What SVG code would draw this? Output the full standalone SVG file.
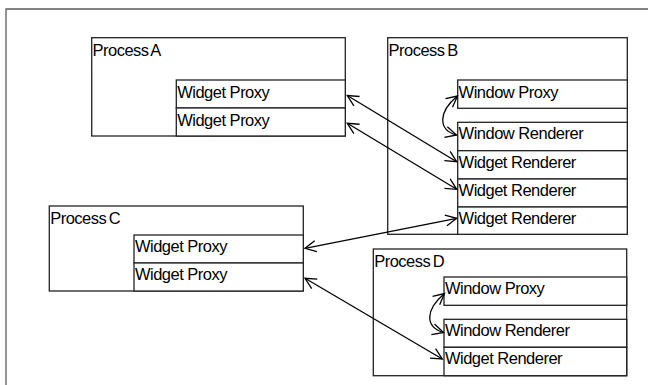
<svg xmlns="http://www.w3.org/2000/svg" width="648" height="385" viewBox="0 0 648 385">
<defs>
<style>
.frame{fill:none;stroke:#5a5a5a;stroke-width:1.3}
.box{fill:#fff;stroke:#222;stroke-width:1.3}
.lbl{font-family:"Liberation Sans",Arial,sans-serif;font-size:16.5px;fill:#000;letter-spacing:-0.5px}
.ttl{word-spacing:-1.5px}
.conn{fill:none;stroke:#000;stroke-width:1.3;marker-start:url(#ah);marker-end:url(#ah)}
</style>
<marker id="ah" markerUnits="userSpaceOnUse" viewBox="-14 -8 16 16" refX="0" refY="0" markerWidth="16" markerHeight="16" orient="auto-start-reverse" overflow="visible">
<path d="M-11,-5.5 L0,0 L-11,5.5" fill="none" stroke="#000" stroke-width="1.3"/>
</marker>
</defs>
<rect width="648" height="385" fill="#fff"/>
<path class="frame" d="M6,385 V9 H648"/>
<g id="processA">
<rect class="box" x="91.7" y="37.7" width="253.6" height="98.3"/>
<text class="lbl ttl" x="92.5" y="55.5">Process A</text>
<rect class="box" x="176.3" y="80" width="169" height="28"/>
<text class="lbl" x="177.2" y="97.5">Widget Proxy</text>
<rect class="box" x="176.3" y="108" width="169" height="28"/>
<text class="lbl" x="177.2" y="125.5">Widget Proxy</text>
</g>
<g id="processB">
<rect class="box" x="387.7" y="37.7" width="239.6" height="196.6"/>
<text class="lbl ttl" x="388.5" y="55.5">Process B</text>
<rect class="box" x="457.7" y="80" width="169.6" height="28.3"/>
<text class="lbl" x="458.6" y="97.5">Window Proxy</text>
<rect class="box" x="457.7" y="122.3" width="169.6" height="28.4"/>
<text class="lbl" x="458.6" y="139.3">Window Renderer</text>
<rect class="box" x="457.7" y="150.7" width="169.6" height="28.3"/>
<text class="lbl" x="458.6" y="167.7">Widget Renderer</text>
<rect class="box" x="457.7" y="179" width="169.6" height="28"/>
<text class="lbl" x="458.6" y="195.8">Widget Renderer</text>
<rect class="box" x="457.7" y="207" width="169.6" height="27.3"/>
<text class="lbl" x="458.6" y="223.8">Widget Renderer</text>
</g>
<g id="processC">
<rect class="box" x="49.3" y="206" width="254" height="85"/>
<text class="lbl ttl" x="50.2" y="223.5">Process C</text>
<rect class="box" x="134" y="235" width="169.3" height="28"/>
<text class="lbl" x="134.9" y="252.3">Widget Proxy</text>
<rect class="box" x="134" y="263" width="169.3" height="28"/>
<text class="lbl" x="134.9" y="280.3">Widget Proxy</text>
</g>
<g id="processD">
<rect class="box" x="373.3" y="249" width="253.4" height="126.7"/>
<text class="lbl ttl" x="374.2" y="267">Process D</text>
<rect class="box" x="444" y="277" width="182.7" height="28.3"/>
<text class="lbl" x="444.9" y="294.3">Window Proxy</text>
<rect class="box" x="444" y="319.3" width="182.7" height="28"/>
<text class="lbl" x="444.9" y="336.3">Window Renderer</text>
<rect class="box" x="444" y="347.3" width="182.7" height="28.4"/>
<text class="lbl" x="444.9" y="364.3">Widget Renderer</text>
</g>
<g id="connectors">
<path class="conn" d="M347.3,95.5 L456.7,161.7"/>
<path class="conn" d="M347.3,123.3 L456.7,189.3"/>
<path class="conn" d="M305,248.3 L456.7,218.3"/>
<path class="conn" d="M305,278.3 L442.3,359"/>
<path class="conn" d="M457.5,96 C438,112 438,130 456.5,135"/>
<path class="conn" d="M444.5,293.5 C425,310 425,327 443.5,332.5"/>
</g>
</svg>
